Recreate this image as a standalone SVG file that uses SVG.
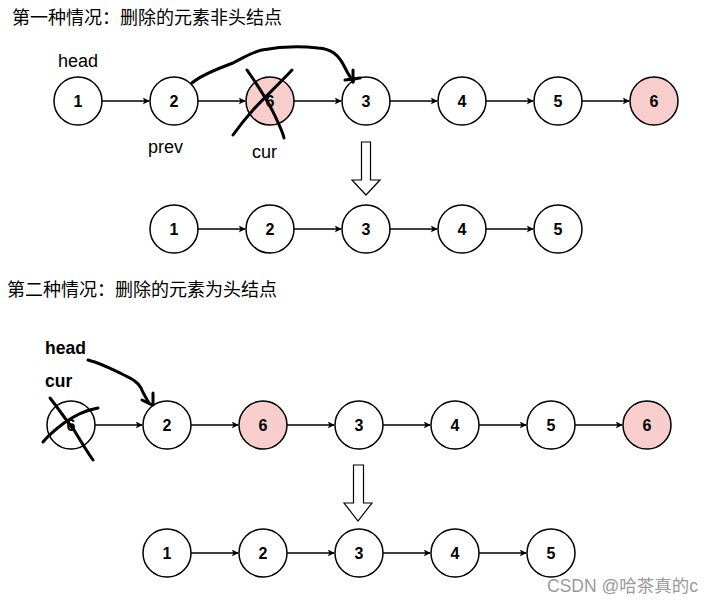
<svg xmlns="http://www.w3.org/2000/svg" width="716" height="604" viewBox="0 0 716 604">
<defs>
<marker id="ah" viewBox="0 0 10 10" refX="9" refY="5" markerWidth="7" markerHeight="7" markerUnits="userSpaceOnUse" orient="auto">
<path d="M0,0 L10,5 L0,10 L2.5,5 Z" fill="#000"/>
</marker>
<style>
.n{fill:#fff;stroke:#000;stroke-width:1.5}
.p{fill:#f8cecc;stroke:#000;stroke-width:1.5}
.t{font-family:"Liberation Sans",Arial,sans-serif;font-weight:bold;font-size:16px;text-anchor:middle;fill:#000}
.e{stroke:#000;stroke-width:1.3;fill:none;marker-end:url(#ah)}
.lbl{font-family:"Liberation Sans",Arial,sans-serif;font-size:18px;fill:#000}
.blbl{font-family:"Liberation Sans",Arial,sans-serif;font-size:17.5px;font-weight:bold;fill:#000}
.ttl{font-family:"Noto Sans CJK SC","Microsoft YaHei",sans-serif;font-size:18px;fill:#000}
.ink{stroke:#000;stroke-width:3;fill:none;stroke-linecap:round;stroke-linejoin:round}
.big{fill:#fff;stroke:#000;stroke-width:1.2}
</style>
</defs>
<rect width="716" height="604" fill="#fff"/>
<text class="ttl" x="12" y="24">第一种情况：删除的元素非头结点</text>
<text class="ttl" x="7" y="296">第二种情况：删除的元素为头结点</text>

<g id="connectors">
<line class="e" x1="102" y1="101" x2="149" y2="101"/>
<line class="e" x1="198" y1="101" x2="245" y2="101"/>
<line class="e" x1="294" y1="101" x2="341" y2="101"/>
<line class="e" x1="390" y1="101" x2="437" y2="101"/>
<line class="e" x1="486" y1="101" x2="533" y2="101"/>
<line class="e" x1="582" y1="101" x2="629" y2="101"/>
<line class="e" x1="198" y1="229" x2="245" y2="229"/>
<line class="e" x1="294" y1="229" x2="341" y2="229"/>
<line class="e" x1="390" y1="229" x2="437" y2="229"/>
<line class="e" x1="486" y1="229" x2="533" y2="229"/>
<line class="e" x1="95" y1="425" x2="142" y2="425"/>
<line class="e" x1="191" y1="425" x2="238" y2="425"/>
<line class="e" x1="287" y1="425" x2="334" y2="425"/>
<line class="e" x1="383" y1="425" x2="430" y2="425"/>
<line class="e" x1="479" y1="425" x2="526" y2="425"/>
<line class="e" x1="575" y1="425" x2="622" y2="425"/>
<line class="e" x1="191" y1="553" x2="238" y2="553"/>
<line class="e" x1="287" y1="553" x2="334" y2="553"/>
<line class="e" x1="383" y1="553" x2="430" y2="553"/>
<line class="e" x1="479" y1="553" x2="526" y2="553"/>
</g>

<g id="n1-1"><circle class="n" cx="78" cy="101" r="24"/><text class="t" x="78" y="107">1</text></g>
<g id="n1-2"><circle class="n" cx="174" cy="101" r="24"/><text class="t" x="174" y="107">2</text></g>
<g id="n1-6a"><circle class="p" cx="270" cy="101" r="24"/><text class="t" x="270" y="107">6</text></g>
<g id="n1-3"><circle class="n" cx="366" cy="101" r="24"/><text class="t" x="366" y="107">3</text></g>
<g id="n1-4"><circle class="n" cx="462" cy="101" r="24"/><text class="t" x="462" y="107">4</text></g>
<g id="n1-5"><circle class="n" cx="558" cy="101" r="24"/><text class="t" x="558" y="107">5</text></g>
<g id="n1-6b"><circle class="p" cx="654" cy="101" r="24"/><text class="t" x="654" y="107">6</text></g>

<g id="n2-1"><circle class="n" cx="174" cy="229" r="24"/><text class="t" x="174" y="235">1</text></g>
<g id="n2-2"><circle class="n" cx="270" cy="229" r="24"/><text class="t" x="270" y="235">2</text></g>
<g id="n2-3"><circle class="n" cx="366" cy="229" r="24"/><text class="t" x="366" y="235">3</text></g>
<g id="n2-4"><circle class="n" cx="462" cy="229" r="24"/><text class="t" x="462" y="235">4</text></g>
<g id="n2-5"><circle class="n" cx="558" cy="229" r="24"/><text class="t" x="558" y="235">5</text></g>

<g id="n3-6a"><circle class="n" cx="71" cy="425" r="24"/><text class="t" x="71" y="431">6</text></g>
<g id="n3-2"><circle class="n" cx="167" cy="425" r="24"/><text class="t" x="167" y="431">2</text></g>
<g id="n3-6b"><circle class="p" cx="263" cy="425" r="24"/><text class="t" x="263" y="431">6</text></g>
<g id="n3-3"><circle class="n" cx="359" cy="425" r="24"/><text class="t" x="359" y="431">3</text></g>
<g id="n3-4"><circle class="n" cx="455" cy="425" r="24"/><text class="t" x="455" y="431">4</text></g>
<g id="n3-5"><circle class="n" cx="551" cy="425" r="24"/><text class="t" x="551" y="431">5</text></g>
<g id="n3-6c"><circle class="p" cx="647" cy="425" r="24"/><text class="t" x="647" y="431">6</text></g>

<g id="n4-1"><circle class="n" cx="167" cy="553" r="24"/><text class="t" x="167" y="559">1</text></g>
<g id="n4-2"><circle class="n" cx="263" cy="553" r="24"/><text class="t" x="263" y="559">2</text></g>
<g id="n4-3"><circle class="n" cx="359" cy="553" r="24"/><text class="t" x="359" y="559">3</text></g>
<g id="n4-4"><circle class="n" cx="455" cy="553" r="24"/><text class="t" x="455" y="559">4</text></g>
<g id="n4-5"><circle class="n" cx="551" cy="553" r="24"/><text class="t" x="551" y="559">5</text></g>

<g id="down1"><path class="big" d="M361.5,142 H370.5 V180 H380 L366,195 L352,180 H361.5 Z"/></g>
<g id="down2"><path class="big" d="M353.5,465 H363.5 V503 H372 L358,521 L344,503 H353.5 Z"/></g>

<text class="lbl" x="58" y="67">head</text>
<text class="lbl" x="148" y="153">prev</text>
<text class="lbl" x="252" y="158">cur</text>
<text class="blbl" x="45" y="354">head</text>
<text class="blbl" x="45" y="387">cur</text>

<g id="ink">
<path class="ink" d="M192,83 C200,76 214,70 233,63 C245,57 252,52 262,50 C278,47 300,46 318,48 C332,49 338,55 343,64 C347,72 350,77 353,82"/>
<path class="ink" d="M345,80 L360,78 M353,70 L353,82"/>
<path class="ink" d="M247,70 C258,86 268,100 276,118 C280,127 283,133 284,138"/>
<path class="ink" d="M292,70 C278,85 264,98 253,110 C244,120 238,128 233,135"/>
<path class="ink" d="M88,360 C100,363 112,369 124,375 C132,379 138,382 141,388 C143,393 146,398 149,403"/>
<path class="ink" d="M142,400 L152,405 M153,393 L153,405"/>
<path class="ink" d="M50,398 C58,408 66,420 74,430 C80,440 86,450 93,460"/>
<path class="ink" d="M98,408 C86,410 74,416 64,423 C56,429 48,436 43,442"/>
</g>

<text x="547" y="592" font-family="'Liberation Sans','Noto Sans CJK SC',sans-serif" font-size="17.5" fill="#9a9a9a">CSDN @哈茶真的c</text>
</svg>
